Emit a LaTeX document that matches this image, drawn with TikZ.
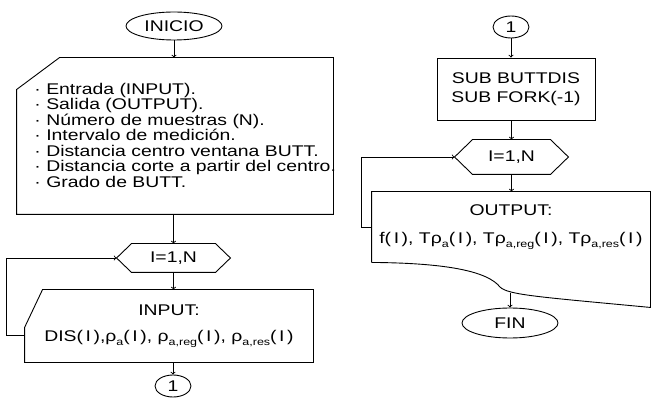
\documentclass[tikz,border=0pt]{standalone}
\usepackage{fontspec}
\setmainfont{Liberation Sans}[FakeStretch=1.25]
\usetikzlibrary{shapes.geometric}
\newcommand{\sbi}[1]{\raisebox{-4pt}{\fontsize{10}{10}\selectfont #1}}

\begin{document}
\begin{tikzpicture}[x=1pt, y=-1pt, >=to, line width=0.9pt,
  every node/.style={font=\fontsize{15.5}{15.5}\selectfont, inner sep=0pt},
  terminal/.style={draw, ellipse, minimum width=96pt, minimum height=28pt},
  conector/.style={draw, ellipse, minimum width=36pt, minimum height=22pt},
  proceso/.style={draw, rectangle},
  marco/.style={rectangle}]
\useasboundingbox (0,0) rectangle (651,414);

% Columna izquierda
\begin{scope}
  % 1. Inicio y datos de entrada
  \node[terminal] (inicio) at (174,26) {INICIO};
  \node[marco, minimum width=316pt, minimum height=156pt] (datos) at (175,136) {};
  \draw (datos.south west) -- ([yshift=-32pt]datos.north west) -- ([xshift=43pt]datos.north west)
    -- (datos.north east) -- (datos.south east) -- cycle;
  \node[anchor=west, align=left] (lista) at (34,135) {%
    · Entrada (INPUT).\\
    · Salida (OUTPUT).\\
    · Número de muestras (N).\\
    · Intervalo de medición.\\
    · Distancia centro ventana BUTT.\\
    · Distancia corte a partir del centro.\\
    · Grado de BUTT.};

  % 2. Bucle de lectura
  \node[minimum width=113pt, minimum height=28pt] (bucleA) at (173.5,258) {I=1,N};
  \draw (bucleA.west) -- ([xshift=15pt]bucleA.north west) -- ([xshift=-15pt]bucleA.north east)
    -- (bucleA.east) -- ([xshift=-15pt]bucleA.south east) -- ([xshift=15pt]bucleA.south west) -- cycle;
  \node[marco, minimum width=288pt, minimum height=72pt, align=center] (entrada) at (169,326)
    {INPUT:\\[11pt] DIS(\,I\,),ρ\sbi{a}(\,I\,), ρ\sbi{a,reg}(\,I\,), ρ\sbi{a,res}(\,I\,)};
  \draw (entrada.south west) -- ([yshift=-38pt]entrada.north west) -- ([xshift=18pt]entrada.north west)
    -- (entrada.north east) -- (entrada.south east) -- cycle;
  \node[conector] (c1a) at (173,386) {1};

  % 3. Flechas
  \draw[->] (inicio.south) -- (inicio.south |- datos.north);
  \draw[->] (bucleA.north |- datos.south) -- (bucleA.north);
  \draw[->] (bucleA.south) -- (bucleA.south |- entrada.north);
  \draw[->] (c1a.north |- entrada.south) -- (c1a.north);
  \draw[->] ([yshift=-9pt]entrada.west) -- ++(-18,0) |- (bucleA.west);
\end{scope}

% Columna derecha
\begin{scope}
  % 1. Subrutinas
  \node[conector] (c1b) at (511,27) {1};
  \node[proceso, minimum width=158pt, minimum height=62pt, align=center] (subr) at (516,89)
    {SUB BUTTDIS\\[4pt] SUB FORK(-1)};

  % 2. Bucle de salida
  \node[minimum width=113pt, minimum height=34pt] (bucleB) at (511.5,157) {I=1,N};
  \draw (bucleB.west) -- ([xshift=18pt]bucleB.north west) -- ([xshift=-18pt]bucleB.north east)
    -- (bucleB.east) -- ([xshift=-18pt]bucleB.south east) -- ([xshift=18pt]bucleB.south west) -- cycle;
  \node[marco, minimum width=278pt, minimum height=70pt, align=center] (salida) at (511,227)
    {OUTPUT:\\[13pt] f(\,I\,), Tρ\sbi{a}(\,I\,), Tρ\sbi{a,reg}(\,I\,), Tρ\sbi{a,res}(\,I\,)};
  \draw (salida.south west) -- (salida.north west) -- (salida.north east) -- ([yshift=-45pt]salida.south east)
    .. controls (540,297) and (508,295) .. (500,287) .. controls (488,272) and (450,263) .. (salida.south west);
  \coordinate (ondaB) at (510,293);
  \node[terminal, minimum height=30pt] (fin) at (510,323) {FIN};

  % 3. Flechas
  \draw[->] (c1b.south) -- (c1b.south |- subr.north);
  \draw[->] (bucleB.north |- subr.south) -- (bucleB.north);
  \draw[->] (bucleB.south) -- (bucleB.south |- salida.north);
  \draw[->] (ondaB) -- (fin.north);
  \draw[->] (salida.west) -- ++(-10,0) |- (bucleB.west);
\end{scope}
\end{tikzpicture}
\end{document}
